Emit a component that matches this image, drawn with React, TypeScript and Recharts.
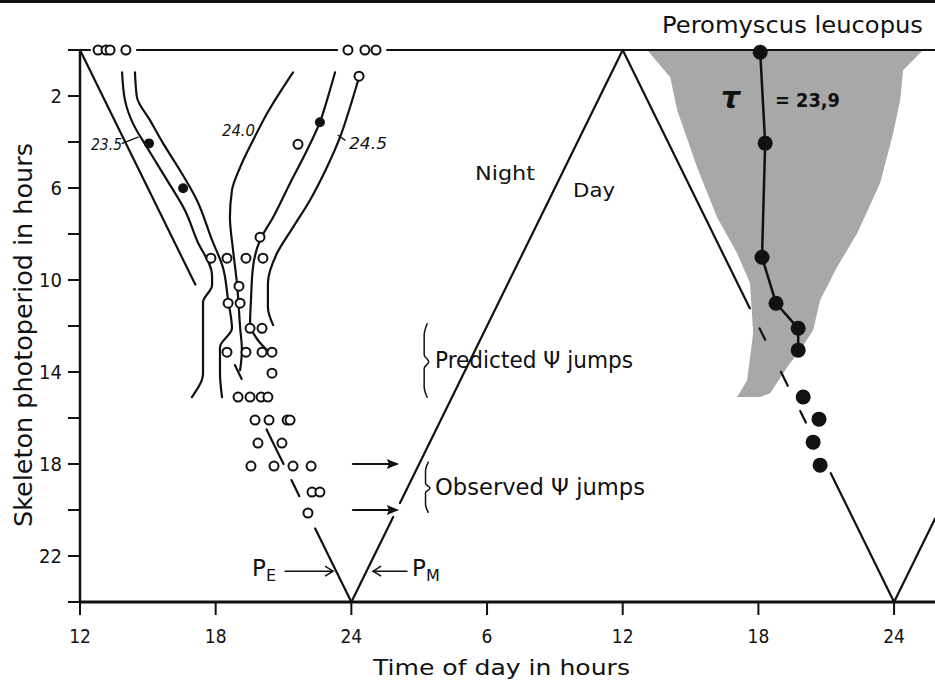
import React from "react";
import { ScatterChart, Scatter, XAxis, YAxis } from "recharts";

const W = 935;
const H = 683;
const X_MAX = 49.81;
const INK = "#111";
const FONT = "'DejaVu Sans', sans-serif";
const NARROW = "'DejaVu Sans Condensed', 'Liberation Sans Narrow', 'DejaVu Sans', sans-serif";

// time of day (double plotted, hours from noon of day 1) and skeleton photoperiod (h)
const xTicks = [12, 18, 24, 30, 36, 42, 48];
const yTicks = [0, 2, 4, 6, 8, 10, 12, 14, 16, 18, 20, 22, 24];
const yLabelled = [2, 6, 10, 14, 18, 22];

// open circles: onsets in the skeleton runs
const openCircles = [
  [12.8, 0], [13.15, 0], [13.33, 0], [14.03, 0], [23.85, 0], [24.6, 0], [25.09, 0],
  [24.34, 1.14], [21.64, 4.1], [19.96, 8.14],
  [17.79, 9.05], [18.5, 9.05], [19.34, 9.05], [20.09, 9.05],
  [19.03, 10.27],
  [18.55, 11.01], [19.08, 11.01],
  [19.52, 12.1], [20.05, 12.1],
  [18.5, 13.14], [19.34, 13.14], [20.05, 13.14], [20.49, 13.14],
  [20.49, 14.05],
  [18.99, 15.09], [19.52, 15.09], [20.01, 15.09], [20.31, 15.09],
  [19.74, 16.09], [20.36, 16.09], [21.16, 16.09], [21.29, 16.09],
  [19.87, 17.09], [20.93, 17.09],
  [19.56, 18.09], [20.58, 18.09], [21.42, 18.09], [22.22, 18.09],
  [22.26, 19.22], [22.61, 19.22],
  [22.08, 20.13],
];
const filledSmall = [[15.05, 4.06], [16.56, 6.01], [22.61, 3.14]];

// Peromyscus leucopus, tau = 23.9
const tauDots = [
  [42.08, 0.1], [42.3, 4.05], [42.16, 9.01], [42.78, 11.01], [43.76, 12.1],
  [43.76, 13.05], [43.98, 15.09], [44.68, 16.05], [44.42, 17.05], [44.73, 18.05],
];
const tauLine = tauDots.slice(0, 6);

const activityBand = [
  [37.08, 0], [38.1, 1.19], [38.41, 2.62], [39.29, 5.1], [40.17, 7.27], [41.06, 8.84],
  [41.63, 10.14], [41.77, 12.31], [41.5, 14.36], [41.06, 15.09], [42.08, 15.09],
  [42.52, 14.92], [43.27, 13.79], [43.84, 13.05], [44.42, 12.18], [44.73, 10.88],
  [45.48, 9.44], [46.37, 7.97], [47.38, 5.79], [47.96, 3.62], [48.27, 2.19],
  [48.4, 0.88], [49.28, 0], [37.08, 0],
];

// predicted phase curves for tau 23.5 / 24.0 / 24.5
const iso235a = [
  [13.86, 0.97], [13.99, 2.19], [14.34, 3.19], [14.96, 4.23], [15.85, 5.66], [16.64, 6.97],
  [17.17, 8.27], [17.84, 9.79], [17.84, 10.23], [17.44, 10.97], [17.44, 14.05], [16.95, 15.09],
];
const iso235b = [
  [14.43, 0.97], [14.52, 2.06], [15.1, 3.06], [15.67, 4.05], [16.42, 5.23], [17.17, 6.53],
  [17.84, 8.27], [18.32, 9.45], [18.55, 10.88], [18.72, 12.1], [18.19, 12.92], [18.19, 14.05],
  [18.28, 15.09],
];
const iso240 = [
  [21.42, 0.97], [20.27, 2.76], [19.65, 3.93], [19.08, 5.1], [18.72, 6.1], [18.63, 7.27],
  [18.77, 8.71], [18.94, 10.14], [19.08, 12.05], [19.16, 13.05], [19.08, 13.92],
];
const iso245a = [
  [23.28, 0.97], [22.92, 2.19], [22.61, 3.14], [22.04, 4.36], [21.29, 5.79], [20.54, 7.27],
  [19.96, 8.27], [19.65, 9.44], [19.56, 10.88], [19.52, 11.88], [19.87, 12.62], [20.4, 13.18],
];
const iso245b = [
  [24.3, 1.32], [23.94, 2.49], [23.5, 3.79], [22.92, 5.1], [22.17, 6.53], [21.42, 7.71],
  [20.71, 8.84], [20.31, 10.14], [20.31, 11.18], [20.54, 11.96],
];

// skeleton edges (lights-off / lights-on), drawn in pieces as in the original
const solidEdges = [
  [[12, 0], [17.1, 10.2]],
  [[22.4, 20.8], [24, 24]],
  [[24, 24], [25.85, 20.3]],
  [[26.15, 19.7], [36, 0]],
  [[36, 0], [41.62, 11.23]],
  [[45.2, 18.4], [48, 24]],
  [[48, 24], [X_MAX, 20.38]],
  [[12, 0], [12.44, 0]],
  [[14.52, 0], [23.37, 0]],
  [[25.58, 0], [X_MAX, 0]],
];
const dashEdges = [
  [[18.85, 13.7], [19.15, 14.3]],
  [[20.25, 16.5], [21.0, 18.0]],
  [[21.35, 18.7], [21.7, 19.4]],
  [[42.05, 12.1], [42.3, 12.6]],
  [[43.0, 14.0], [43.3, 14.6]],
  [[43.85, 15.7], [44.1, 16.2]],
];

const bracketPredicted = [
  [27.35, 11.9], [27.22, 12.4], [27.22, 13.25], [27.42, 13.55], [27.22, 13.85], [27.22, 14.65], [27.35, 15.1],
];
const bracketObserved = [
  [27.4, 17.92], [27.28, 18.3], [27.28, 18.85], [27.48, 19.05], [27.28, 19.25], [27.28, 19.75], [27.4, 20.1],
];
const leaders = [
  [[13.86, 4.06], [14.57, 3.79]],
  [[23.41, 3.71], [23.72, 3.92]],
];
const jumpArrows = [
  [[24.07, 18], [26.0, 18]],
  [[24.07, 20], [26.0, 20]],
];
const jumpHeads = [[26.1, 18], [26.1, 20]];
const peArrow = [[21.07, 22.66], [23.19, 22.66]];
const pmArrow = [[24.96, 22.66], [26.46, 22.66]];

const pts = (a: number[][]) => a.map(([x, y]) => ({ x, y }));

const NoDot = () => <g />;
const OpenDot = (p: any) => <circle cx={p.cx} cy={p.cy} r={4.5} fill="#fff" stroke={INK} strokeWidth={2} />;
const SmallDot = (p: any) => <circle cx={p.cx} cy={p.cy} r={5} fill={INK} />;
const BigDot = (p: any) => <circle cx={p.cx} cy={p.cy} r={7.5} fill={INK} />;
const HeadRight = (p: any) => <path d={`M${p.cx},${p.cy} l-12,-5 l2,5 l-2,5 z`} fill={INK} />;
const ChevRight = (p: any) => <path d={`M${p.cx - 8},${p.cy - 5} L${p.cx},${p.cy} L${p.cx - 8},${p.cy + 5}`} fill="none" stroke={INK} strokeWidth={1.5} />;
const ChevLeft = (p: any) => <path d={`M${p.cx + 8},${p.cy - 5} L${p.cx},${p.cy} L${p.cx + 8},${p.cy + 5}`} fill="none" stroke={INK} strokeWidth={1.5} />;

const line = (key: string, data: number[][], width = 2, type: any = "linear", dash?: string) => (
  <Scatter
    key={key}
    data={pts(data)}
    line={{ stroke: INK, strokeWidth: width, strokeDasharray: dash, strokeLinecap: "round" }}
    lineJointType={type}
    shape={NoDot}
    isAnimationActive={false}
  />
);

const fmtClock = (v: number) => String(v % 24 === 0 ? 24 : v % 24);
const fmtP = (v: number) => (yLabelled.includes(v) ? String(v) : "");

export default function App() {
  return (
    <div style={{ position: "absolute", left: 0, top: 0, width: W, height: H, background: "#fff" }}>
      <ScatterChart width={W} height={H} margin={{ top: 50, right: 0, bottom: 0, left: 0 }}>
        <XAxis
          type="number"
          dataKey="x"
          domain={[12, X_MAX]}
          ticks={xTicks}
          interval={0}
          tickFormatter={fmtClock}
          height={81}
          tickSize={13}
          tickMargin={15}
          axisLine={{ stroke: INK, strokeWidth: 3 }}
          tickLine={{ stroke: INK, strokeWidth: 2 }}
          tick={{ fill: INK, fontSize: 19, fontFamily: NARROW }}
        />
        <YAxis
          type="number"
          dataKey="y"
          domain={[0, 24]}
          reversed
          ticks={yTicks}
          interval={0}
          tickFormatter={fmtP}
          width={80}
          tickSize={12}
          tickMargin={6}
          axisLine={{ stroke: INK, strokeWidth: 2.5 }}
          tickLine={{ stroke: INK, strokeWidth: 2 }}
          tick={{ fill: INK, fontSize: 20, fontFamily: NARROW }}
        />
        <Scatter
          data={pts(activityBand)}
          line={{ fill: "#a8a8a8", stroke: "none" }}
          shape={NoDot}
          isAnimationActive={false}
        />
        {solidEdges.map((s, i) => line(`e${i}`, s, 2.2))}
        {dashEdges.map((s, i) => line(`d${i}`, s, 2.2))}
        {line("i1", iso235a, 2.2, "monotoneY")}
        {line("i2", iso235b, 2.2, "monotoneY")}
        {line("i3", iso240, 2.2, "monotoneY")}
        {line("i4", iso245a, 2.2, "monotoneY")}
        {line("i5", iso245b, 2.2, "monotoneY")}
        {leaders.map((s, i) => line(`l${i}`, s, 1.3))}
        {line("bp", bracketPredicted, 1.5, "monotoneY")}
        {line("bo", bracketObserved, 1.5, "monotoneY")}
        {jumpArrows.map((s, i) => line(`a${i}`, s, 2.2))}
        <Scatter data={pts(jumpHeads)} shape={HeadRight} isAnimationActive={false} />
        {line("pe", peArrow, 1.5)}
        {line("pm", pmArrow, 1.5)}
        <Scatter data={pts([peArrow[1]])} shape={ChevRight} isAnimationActive={false} />
        <Scatter data={pts([pmArrow[0]])} shape={ChevLeft} isAnimationActive={false} />
        {line("tau", tauLine, 2.5)}
        <Scatter data={pts(openCircles)} shape={OpenDot} isAnimationActive={false} />
        <Scatter data={pts(filledSmall)} shape={SmallDot} isAnimationActive={false} />
        <Scatter data={pts(tauDots)} shape={BigDot} isAnimationActive={false} />
      </ScatterChart>
      <svg
        width={W}
        height={H}
        style={{ position: "absolute", left: 0, top: 0, pointerEvents: "none" }}
        fontFamily={FONT}
        fill={INK}
      >
        <rect x={0} y={0} width={W} height={3} fill={INK} />
        <text x={662} y={33} fontSize={23} textLength={261} lengthAdjust="spacingAndGlyphs">Peromyscus leucopus</text>
        <text x={475} y={180} fontSize={20} textLength={60} lengthAdjust="spacingAndGlyphs">Night</text>
        <text x={573} y={197} fontSize={20} textLength={42} lengthAdjust="spacingAndGlyphs">Day</text>
        <text x={435} y={368} fontSize={23} textLength={198} lengthAdjust="spacingAndGlyphs">Predicted Ψ jumps</text>
        <text x={435} y={495} fontSize={23} textLength={210} lengthAdjust="spacingAndGlyphs">Observed Ψ jumps</text>
        <text x={721} y={108} fontSize={30} fontStyle="italic" fontWeight="bold">τ</text>
        <text x={775} y={107} fontSize={19} fontWeight="bold" textLength={65} lengthAdjust="spacingAndGlyphs">= 23,9</text>
        <text x={252} y={576} fontSize={23}>P<tspan fontSize={16} dy={5}>E</tspan></text>
        <text x={412} y={576} fontSize={23}>P<tspan fontSize={16} dy={5}>M</tspan></text>
        <text x={91} y={150} fontSize={15} fontStyle="italic" textLength={31} lengthAdjust="spacingAndGlyphs">23.5</text>
        <text x={222} y={136} fontSize={15} fontStyle="italic" textLength={33} lengthAdjust="spacingAndGlyphs">24.0</text>
        <text x={349} y={149} fontSize={15} fontStyle="italic" textLength={38} lengthAdjust="spacingAndGlyphs">24.5</text>
        <text x={373} y={675} fontSize={22} textLength={257} lengthAdjust="spacingAndGlyphs">Time of day in hours</text>
        <text transform="translate(32, 527) rotate(-90)" fontSize={25} textLength={384} lengthAdjust="spacingAndGlyphs">
          Skeleton photoperiod in hours
        </text>
      </svg>
    </div>
  );
}
